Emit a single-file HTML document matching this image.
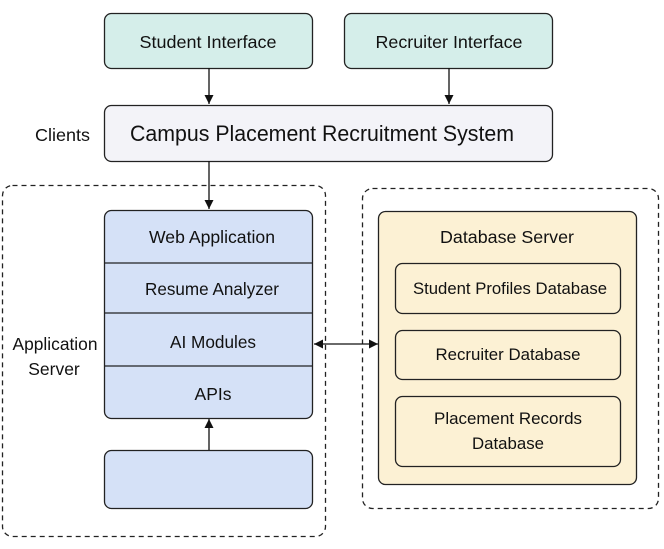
<!DOCTYPE html>
<html><head><meta charset="utf-8"><style>
html,body{margin:0;padding:0;background:#fff;}
svg text{font-family:"Liberation Sans",sans-serif;fill:#111;}
</style></head><body>
<svg width="664" height="544" viewBox="0 0 664 544" xmlns="http://www.w3.org/2000/svg">
<defs>
<marker id="ah" viewBox="0 0 10 10" refX="10" refY="5" markerWidth="7" markerHeight="7" orient="auto-start-reverse"><path d="M0,0 L10,5 L0,10 z" fill="#111"/></marker>
</defs>
<rect x="104.5" y="13.5" width="208" height="55" rx="7" fill="#d5eeea" stroke="#222" stroke-width="1.3"/>
<text x="208" y="48" font-size="17.5" text-anchor="middle" textLength="137" lengthAdjust="spacingAndGlyphs">Student Interface</text>
<rect x="344.5" y="13.5" width="208" height="55" rx="7" fill="#d5eeea" stroke="#222" stroke-width="1.3"/>
<text x="449" y="48" font-size="17.5" text-anchor="middle" textLength="147" lengthAdjust="spacingAndGlyphs">Recruiter Interface</text>
<line x1="209" y1="68" x2="209" y2="104" stroke="#111" stroke-width="1.3" marker-end="url(#ah)"/>
<line x1="449" y1="68" x2="449" y2="104" stroke="#111" stroke-width="1.3" marker-end="url(#ah)"/>
<rect x="104.5" y="105.5" width="448" height="56" rx="7" fill="#f3f3f8" stroke="#222" stroke-width="1.3"/>
<text x="322" y="141" font-size="22" text-anchor="middle" textLength="384" lengthAdjust="spacingAndGlyphs">Campus Placement Recruitment System</text>
<text x="35" y="141" font-size="17.5" textLength="55" lengthAdjust="spacingAndGlyphs">Clients</text>
<line x1="209" y1="161" x2="209" y2="209" stroke="#111" stroke-width="1.3" marker-end="url(#ah)"/>
<rect x="2.5" y="185.5" width="323" height="351" rx="10" fill="none" stroke="#222" stroke-width="1.3" stroke-dasharray="5,4"/>
<rect x="362.5" y="188.5" width="296" height="320" rx="10" fill="none" stroke="#222" stroke-width="1.3" stroke-dasharray="5,4"/>
<rect x="104.5" y="210.5" width="208" height="208" rx="7" fill="#d5e1f7" stroke="#222" stroke-width="1.3"/>
<line x1="105" y1="263" x2="312" y2="263" stroke="#222" stroke-width="1.2"/>
<line x1="105" y1="313" x2="312" y2="313" stroke="#222" stroke-width="1.2"/>
<line x1="105" y1="366" x2="312" y2="366" stroke="#222" stroke-width="1.2"/>
<text x="212" y="243" font-size="17.5" text-anchor="middle" textLength="126" lengthAdjust="spacingAndGlyphs">Web Application</text>
<text x="212" y="295" font-size="17.5" text-anchor="middle" textLength="134" lengthAdjust="spacingAndGlyphs">Resume Analyzer</text>
<text x="213" y="348" font-size="17.5" text-anchor="middle" textLength="86" lengthAdjust="spacingAndGlyphs">AI Modules</text>
<text x="213" y="400" font-size="17.5" text-anchor="middle">APIs</text>
<rect x="104.5" y="450.5" width="208" height="58" rx="7" fill="#d5e1f7" stroke="#222" stroke-width="1.3"/>
<line x1="209" y1="450" x2="209" y2="419" stroke="#111" stroke-width="1.3" marker-end="url(#ah)"/>
<text x="55" y="350" font-size="17.5" text-anchor="middle" textLength="85" lengthAdjust="spacingAndGlyphs">Application</text>
<text x="54" y="375" font-size="17.5" text-anchor="middle">Server</text>
<line x1="314" y1="344" x2="378" y2="344" stroke="#111" stroke-width="1.3" marker-start="url(#ah)" marker-end="url(#ah)"/>
<rect x="378.5" y="211.5" width="258" height="273" rx="7" fill="#fcf1d4" stroke="#222" stroke-width="1.3"/>
<text x="507" y="243" font-size="17.5" text-anchor="middle" textLength="134" lengthAdjust="spacingAndGlyphs">Database Server</text>
<rect x="395.5" y="263.5" width="225" height="50" rx="7" fill="#fcf1d4" stroke="#222" stroke-width="1.3"/>
<text x="510" y="294" font-size="17" text-anchor="middle" textLength="194" lengthAdjust="spacingAndGlyphs">Student Profiles Database</text>
<rect x="395.5" y="330.5" width="225" height="49" rx="7" fill="#fcf1d4" stroke="#222" stroke-width="1.3"/>
<text x="508" y="360" font-size="17" text-anchor="middle" textLength="145" lengthAdjust="spacingAndGlyphs">Recruiter Database</text>
<rect x="395.5" y="396.5" width="225" height="70" rx="7" fill="#fcf1d4" stroke="#222" stroke-width="1.3"/>
<text x="508" y="424" font-size="17" text-anchor="middle" textLength="148" lengthAdjust="spacingAndGlyphs">Placement Records</text>
<text x="508" y="449" font-size="17" text-anchor="middle" textLength="72" lengthAdjust="spacingAndGlyphs">Database</text>
</svg>
</body></html>
